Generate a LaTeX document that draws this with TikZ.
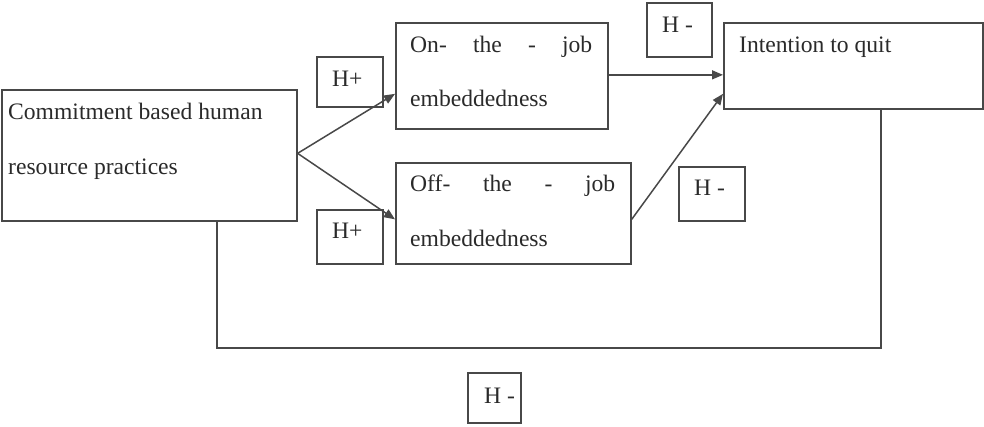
\documentclass[tikz,border=0pt]{standalone}
\usepackage{fontspec}
\setmainfont{Liberation Serif}
\usetikzlibrary{arrows.meta}
\definecolor{ln}{HTML}{484848}
\definecolor{tx}{HTML}{2a2a2a}
\begin{document}
\begin{tikzpicture}[x=1pt,y=-1pt,
  box/.style={draw=ln,line width=1.7pt,inner sep=0pt,anchor=north west},
  lbl/.style={anchor=base west,inner sep=0pt,text=tx,font=\fontsize{23.6}{28}\selectfont},
  arr/.style={draw=ln,line width=1.5pt,-{Triangle[length=11pt,width=9pt]}},
  con/.style={draw=ln,line width=1.7pt}]
\useasboundingbox (0,0) rectangle (984,426);
% boxes
\node[box,minimum width=295pt,minimum height=131pt] (hr) at (0.9,89) {};
\node[box,minimum width=212pt,minimum height=106pt] (on) at (395,22) {};
\node[box,minimum width=235pt,minimum height=101pt] (off) at (395,162) {};
\node[box,minimum width=259pt,minimum height=86pt] (int) at (723,22) {};
\node[box,minimum width=66pt,minimum height=50pt] (hp1) at (316,56) {};
\node[box,minimum width=66pt,minimum height=54pt] (hp2) at (316,209) {};
\node[box,minimum width=65pt,minimum height=54pt] (hm1) at (646,2) {};
\node[box,minimum width=66pt,minimum height=54pt] (hm2) at (678,166) {};
\node[box,minimum width=53pt,minimum height=50pt] (hm3) at (467,372) {};
% texts
\node[lbl] (t1) at (8,119) {Commitment based human};
\node[lbl] (t2) at (8,174) {resource practices};
\node[lbl] (t3) at (410,52) {\makebox[182pt][s]{On-\hfill the\hfill -\hfill job}};
\node[lbl] (t4) at (410,106) {embeddedness};
\node[lbl] (t5) at (410,191) {\makebox[205pt][s]{Off-\hfill the\hfill -\hfill job}};
\node[lbl] (t6) at (410,246) {embeddedness};
\node[lbl] (t7) at (739,52) {Intention to quit};
\node[lbl] (t8) at (332,86) {H+};
\node[lbl] (t9) at (332,238) {H+};
\node[lbl] (t10) at (662,32) {H -};
\node[lbl] (t11) at (694,195) {H -};
\node[lbl] (t12) at (484,403) {H -};
% connectors
\draw[arr] ([yshift=2pt]hr.east) -- ([yshift=-18pt]on.west);
\draw[arr] ([yshift=2pt]hr.east) -- ([yshift=-6pt]off.west);
\draw[arr] ([yshift=1pt]on.east) -- ([yshift=1pt]on.east -| int.west);
\draw[arr] ([yshift=-6pt]off.east) -- ([yshift=-28pt]int.west);
\coordinate (c1) at (217,348);
\coordinate (c2) at (881,348);
\draw[con] (hr.south -| c1) -- (c1) -- (c2) -- (int.south -| c2);
\end{tikzpicture}
\end{document}
